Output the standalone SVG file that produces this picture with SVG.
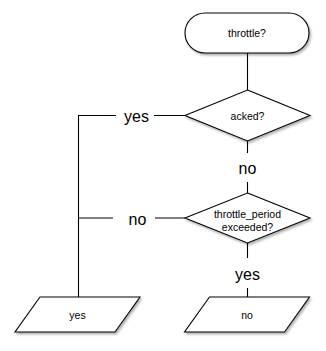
<svg xmlns="http://www.w3.org/2000/svg" width="326" height="351" viewBox="0 0 326 351">
<defs>
<filter id="sh" x="-10%" y="-10%" width="130%" height="140%">
<feDropShadow dx="1.5" dy="2" stdDeviation="1.2" flood-color="#000" flood-opacity="0.3"/>
</filter>
</defs>
<style>
.n{fill:#fff;stroke:#000;stroke-width:1.1;filter:url(#sh)}
.t{font-family:"Liberation Sans",Arial,sans-serif;font-size:10.5px;fill:#000;text-anchor:middle;dominant-baseline:central}
.l{font-family:"Liberation Sans",Arial,sans-serif;font-size:16px;fill:#000;text-anchor:middle;dominant-baseline:central}
.c{stroke:#000;stroke-width:1.1;fill:none}
</style>
<rect width="326" height="351" fill="#fff"/>
<g id="connectors">
<path class="c" d="M247.5,53 V90"/>
<path class="c" d="M247.5,140 V153 M247.5,182 V193"/>
<path class="c" d="M247.5,243 V258 M247.5,288 V297"/>
<path class="c" d="M185,115.5 H154 M116,115.5 H78.5 V297"/>
<path class="c" d="M185,218 H155 M113,218 H78.5"/>
<text class="l" x="136.5" y="116">yes</text>
<text class="l" x="137.5" y="219">no</text>
<text class="l" x="247.5" y="168">no</text>
<text class="l" x="247.5" y="274">yes</text>
</g>
<g id="start">
<rect class="n" x="185" y="13" width="124" height="40" rx="20" ry="20"/>
<text class="t" x="247" y="33">throttle?</text>
</g>
<g id="acked">
<polygon class="n" points="247.5,90 310,115.5 247.5,141 185,115.5"/>
<text class="t" x="247.5" y="116">acked?</text>
</g>
<g id="exceeded">
<polygon class="n" points="247.5,193 310,218 247.5,243 185,218"/>
<text class="t" x="247.5" y="213.5">throttle_period</text>
<text class="t" x="247.5" y="226.5">exceeded?</text>
</g>
<g id="out-yes">
<polygon class="n" points="40,297 140,297 115,332 15,332"/>
<text class="t" x="77.5" y="315">yes</text>
</g>
<g id="out-no">
<polygon class="n" points="209.5,297 309.5,297 284.5,332 184.5,332"/>
<text class="t" x="247" y="315">no</text>
</g>
</svg>
